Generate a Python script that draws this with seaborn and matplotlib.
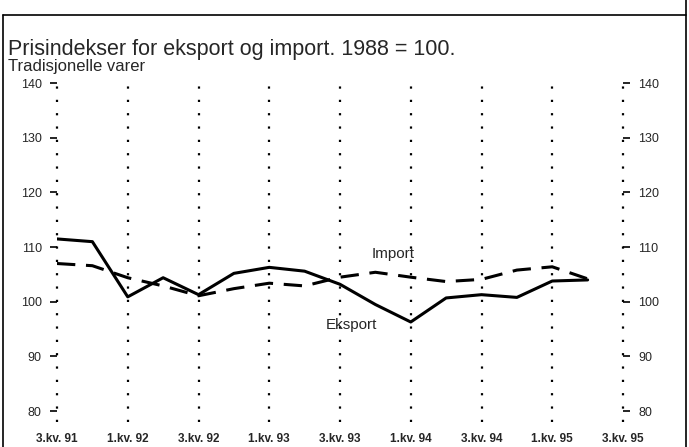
import pandas as pd
import matplotlib
matplotlib.use('Agg')
import matplotlib.pyplot as plt
import seaborn as sns
from matplotlib.lines import Line2D

# quarterly data, 3.kv. 91 - 2.kv. 95
kvartal = list(range(16))
eksport = [111.5, 111.0, 100.9, 104.4, 101.3, 105.2, 106.3, 105.6,
           103.2, 99.5, 96.3, 100.7, 101.3, 100.8, 103.8, 104.0]
importv = [107.0, 106.6, 104.4, 102.9, 101.1, 102.4, 103.4, 102.9,
           104.5, 105.4, 104.5, 103.7, 104.1, 105.8, 106.4, 104.2]
tick_pos = list(range(0, 17, 2))
tick_labels = ['3.kv. 91', '1.kv. 92', '3.kv. 92', '1.kv. 93', '3.kv. 93',
               '1.kv. 94', '3.kv. 94', '1.kv. 95', '3.kv. 95']
y_ticks = [80, 90, 100, 110, 120, 130, 140]

df = pd.DataFrame({
    'kvartal': kvartal * 2,
    'indeks': eksport + importv,
    'serie': ['Eksport'] * len(eksport) + ['Import'] * len(importv),
})

sns.set_style("white")
plt.rcParams['font.family'] = ['Liberation Sans', 'DejaVu Sans']

fig = plt.figure(figsize=(6.89, 4.47), dpi=100)
ax = fig.add_axes([57 / 689, 1 - 422 / 447, (623 - 57) / 689, (422 - 81) / 447])

sns.lineplot(data=df, x='kvartal', y='indeks', style='serie', color='black',
             dashes={'Eksport': '', 'Import': (6, 3.5)}, linewidth=2.2,
             legend=False, ax=ax)

ax.set_xlim(0, 16)
ax.set_ylim(78, 140.4)
ax.set_xticks(tick_pos)
ax.set_xticklabels(tick_labels, fontsize=8.5, fontweight='bold')
ax.set_yticks(y_ticks)
ax.set_yticklabels([str(v) for v in y_ticks], fontsize=9)
ax.set_xlabel('')
ax.set_ylabel('')
for s in ax.spines.values():
    s.set_visible(False)
ax.grid(axis='x', color='black', linestyle=(0, (1, 5)), linewidth=1.6)
ax.grid(axis='y', visible=False)
for gl in ax.get_xgridlines():
    gl.set_clip_on(False)
ax.tick_params(axis='x', length=0, pad=8)
ax.tick_params(axis='y', left=True, length=5, width=1.2, pad=6, color='black')

ax2 = ax.twinx()
ax2.set_ylim(ax.get_ylim())
ax2.set_yticks(y_ticks)
ax2.set_yticklabels([str(v) for v in y_ticks], fontsize=9)
for s in ax2.spines.values():
    s.set_visible(False)
ax2.tick_params(axis='y', right=True, length=5, width=1.2, pad=6, color='black')
ax2.grid(False)

ax.text(8.9, 108.0, 'Import', fontsize=11)
ax.text(7.6, 95.0, 'Eksport', fontsize=11)

fig.text(8 / 689, 1 - 55 / 447, 'Prisindekser for eksport og import. 1988 = 100.',
         fontsize=15.5)
fig.text(8 / 689, 1 - 71 / 447, 'Tradisjonelle varer', fontsize=12)

# frame around the figure
for xs, ys in [([3, 686], [15, 15]), ([3, 3], [15, 447]), ([686, 686], [0, 447])]:
    fig.add_artist(Line2D([x / 689 for x in xs], [1 - y / 447 for y in ys],
                          color='black', linewidth=1.2))

fig.savefig('out.png', dpi=100)
